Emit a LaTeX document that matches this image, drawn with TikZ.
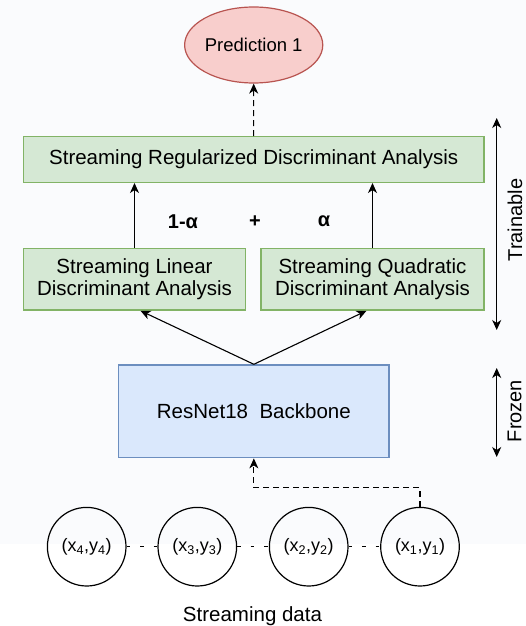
\documentclass[tikz,border=0pt]{standalone}
\usepackage{fontspec}
\setmainfont{Liberation Sans}
\usetikzlibrary{shapes.geometric,arrows.meta,calc}
\definecolor{bgc}{RGB}{250,251,253}
\definecolor{redfill}{HTML}{F8CECC}
\definecolor{redline}{HTML}{B85450}
\definecolor{greenfill}{HTML}{D5E8D4}
\definecolor{greenline}{HTML}{82B366}
\definecolor{bluefill}{HTML}{DAE8FC}
\definecolor{blueline}{HTML}{6C8EBF}
\tikzset{
  x=1pt,y=1pt,
  bigfont/.style={font=\fontsize{20.5}{24}\selectfont},
  greenbox/.style={draw=greenline,fill=greenfill,line width=1.4pt,rectangle,inner sep=0pt,align=center,bigfont},
  databox/.style={draw=black,circle,line width=1.2pt,minimum size=78.6pt,inner sep=0pt,font=\fontsize{18}{20}\selectfont},
  arr/.style={line width=1.1pt,-{Stealth[length=10pt,width=9pt,inset=3pt]}},
  darr/.style={line width=1.1pt,{Stealth[length=10pt,width=9pt,inset=3pt]}-{Stealth[length=10pt,width=9pt,inset=3pt]}},
  dasharr/.style={line width=1.1pt,dash pattern=on 6pt off 4pt,-{Stealth[length=10pt,width=9pt,inset=3pt]}},
  dotline/.style={line width=1.1pt,dash pattern=on 3.5pt off 10pt},
  coef/.style={font=\fontsize{20}{24}\selectfont\bfseries},
  side/.style={rotate=90,anchor=north,inner sep=0pt,font=\fontsize{20}{24}\selectfont}
}
\begin{document}
\begin{tikzpicture}
\useasboundingbox (0,0) rectangle (526,-626);
\fill[bgc] (0,0) rectangle (526,-544);

\node[ellipse,draw=redline,fill=redfill,line width=1.2pt,minimum width=126pt,minimum height=76pt,inner sep=0pt,font=\fontsize{18.5}{22}\selectfont] (pred) at (253.7,-45) {Prediction 1};

\node[greenbox,minimum width=460.7pt,minimum height=45.6pt] (srda) at (253.65,-159.5) {Streaming Regularized Discriminant Analysis};
\node[greenbox,minimum width=222.4pt,minimum height=61.7pt] (slda) at (134.5,-279.2) {Streaming Linear\\[-2pt]Discriminant Analysis};
\node[greenbox,minimum width=223pt,minimum height=61.7pt] (sqda) at (372.5,-279.2) {Streaming Quadratic\\[-2pt]Discriminant Analysis};

\node[draw=blueline,fill=bluefill,line width=1.4pt,minimum width=270.3pt,minimum height=92.7pt,inner sep=0pt,bigfont] (resnet) at (253.85,-411.35) {ResNet18\hspace{11.5pt}Backbone};

\node[coef] (c1a) at (183,-221.7) {1-α};
\node[coef] (plus) at (255,-221.7) {+};
\node[coef] (ca) at (324,-221.7) {α};

\draw[dasharr] (srda.north) -- (pred.south);
\draw[arr] (slda.north) -- (slda.north |- srda.south);
\draw[arr] (sqda.north) -- (sqda.north |- srda.south);
\draw[arr] (resnet.north) -- ($(slda.south)+(6,0)$);
\draw[arr] (resnet.north) -- ($(sqda.south)+(-6,0)$);

\node[databox] (d4) at (86.7,-546.7) {(x\textsubscript{4},y\textsubscript{4})};
\node[databox] (d3) at (197.3,-546.7) {(x\textsubscript{3},y\textsubscript{3})};
\node[databox] (d2) at (308.7,-546.7) {(x\textsubscript{2},y\textsubscript{2})};
\node[databox] (d1) at (420,-546.7) {(x\textsubscript{1},y\textsubscript{1})};

\draw[dotline] (d4.east) -- (d3.west);
\draw[dotline] (d3.east) -- (d2.west);
\draw[dotline] (d2.east) -- (d1.west);

\draw[dasharr] (d1.north) -- ++(0,19) -| (resnet.south);

\node[bigfont,anchor=base] (sd) at (252.5,-621.5) {Streaming data};

\coordinate (t1) at (496.7,-118);
\coordinate (t2) at (496.7,-330);
\coordinate (f1) at (496.7,-368);
\coordinate (f2) at (496.7,-457);
\draw[darr] (t1) -- (t2);
\draw[darr] (f1) -- (f2);
\node[side] (tr) at (507.5,-220) {Trainable};
\node[side] (fr) at (507.5,-411) {Frozen};
\end{tikzpicture}
\end{document}
